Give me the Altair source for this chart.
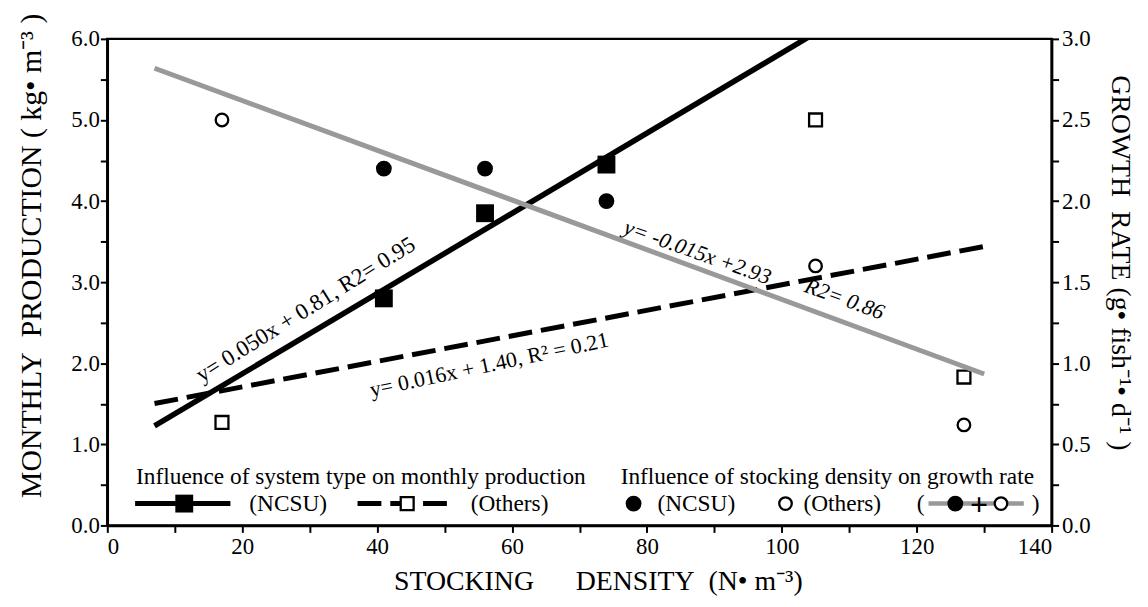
import altair as alt
import pandas as pd

# ---- data ----
density_ncsu = [41, 56, 74]
density_others = [17, 105, 127]
production_ncsu = [2.8, 3.85, 4.45]
production_others = [1.27, 5.0, 1.83]
growth_ncsu = [2.2, 2.2, 2.0]
growth_others = [2.5, 1.6, 0.62]
fit_extent = [7, 130]

x_ticks = list(range(0, 141, 10))
yl_ticks = [i * 0.5 for i in range(13)]
yr_ticks = [i * 0.25 for i in range(13)]

FONT = "Liberation Serif"
W, H = 951, 490
NB = "\u00a0"

prod_df = pd.DataFrame({
    "density": density_ncsu + density_others,
    "production": production_ncsu + production_others,
    "group": ["NCSU"] * 3 + ["Others"] * 3,
})
growth_df = pd.DataFrame({
    "density": density_ncsu + density_others,
    "growth": growth_ncsu + growth_others,
    "group": ["NCSU"] * 3 + ["Others"] * 3,
})

x_scale = alt.Scale(domain=[0, 140], nice=False, zero=False)
x_axis = alt.Axis(
    values=x_ticks,
    labelExpr="datum.value % 20 === 0 ? datum.value : ''",
    labelPadding=3,
    title=f"STOCKING{NB*6}DENSITY{NB*2}(N• m⁻³)",
    titleFontSize=28,
    titleX=494, titleY=57, titleAlign="center", titleBaseline="middle",
)
yl_scale = alt.Scale(domain=[0, 6], nice=False, zero=False)
yl_axis = alt.Axis(
    values=yl_ticks, orient="left",
    labelExpr="datum.value % 1 === 0 ? format(datum.value, '.1f') : ''",
    labelPadding=1,
    title=f"MONTHLY{NB*2}PRODUCTION{NB}({NB}kg• m⁻³{NB})",
    titleAngle=270, titleX=-76, titleY=218, titleAlign="center", titleBaseline="middle",
)
yr_scale = alt.Scale(domain=[0, 3], nice=False, zero=False)
yr_axis = alt.Axis(
    values=yr_ticks, orient="right",
    labelExpr="(datum.value * 2) % 1 === 0 ? format(datum.value, '.1f') : ''",
    labelPadding=3,
    title=f"GROWTH{NB*2}RATE{NB}(g• fish⁻¹• d⁻¹{NB})",
    titleFontSize=28,
    titleAngle=90, titleX=60, titleY=225, titleAlign="center", titleBaseline="alphabetic",
)

X = alt.X("density:Q", scale=x_scale, axis=x_axis)
YL = alt.Y("production:Q", scale=yl_scale, axis=yl_axis)
YR = alt.Y("growth:Q", scale=yr_scale, axis=yr_axis)

def XD(v):
    return alt.X(datum=v, scale=x_scale, axis=x_axis)

def YLD(v):
    return alt.Y(datum=v, scale=yl_scale, axis=yl_axis)

def YRD(v):
    return alt.Y(datum=v, scale=yr_scale, axis=yr_axis)

one = alt.Data(values=[{}])

# ---- production (left axis) ----
pbase = alt.Chart(prod_df)
solid = pbase.transform_filter(alt.datum.group == "NCSU").transform_regression(
    "density", "production", extent=fit_extent
).mark_line(color="black", strokeWidth=5.5, clip=True).encode(x=X, y=YL)
dashed = pbase.transform_filter(alt.datum.group == "Others").transform_regression(
    "density", "production", extent=fit_extent
).mark_line(color="black", strokeWidth=5, strokeDash=[24, 9], clip=True).encode(x=X, y=YL)
sq_filled = pbase.transform_filter(alt.datum.group == "NCSU").mark_point(
    shape="square", filled=True, size=324, color="black", opacity=1
).encode(x=X, y=YL)
sq_open = pbase.transform_filter(alt.datum.group == "Others").mark_point(
    shape="square", filled=True, fill="white", stroke="black", strokeWidth=2.3, size=169, opacity=1
).encode(x=X, y=YL)

eq1 = alt.Chart(one).mark_text(
    text="y= 0.050x + 0.81, R2= 0.95", angle=328, font=FONT, fontSize=23, color="black"
).encode(x=XD(29.4), y=YLD(2.66))
eq2 = alt.Chart(one).mark_text(
    text="y= 0.016x + 1.40, R² = 0.21", angle=348, font=FONT, fontSize=22, color="black"
).encode(x=XD(56.6), y=YLD(1.98))

left = alt.layer(solid, dashed, sq_open, sq_filled, eq1, eq2)

# ---- growth (right axis) ----
gbase = alt.Chart(growth_df)
gray = gbase.transform_regression("density", "growth", extent=fit_extent).mark_line(
    color="#999999", strokeWidth=5
).encode(x=X, y=YR)
c_open = gbase.transform_filter(alt.datum.group == "Others").mark_point(
    shape="circle", filled=False, stroke="black", strokeWidth=2.3, size=160, opacity=1
).encode(x=X, y=YR)
c_filled = gbase.transform_filter(alt.datum.group == "NCSU").mark_circle(
    size=254, color="black", opacity=1
).encode(x=X, y=YR)
eq3 = alt.Chart(one).mark_text(
    text="y= -0.015x +2.93", angle=19.5, font=FONT, fontSize=22, fontStyle="italic", color="black"
).encode(x=XD(87.5), y=YRD(1.684))
eq4 = alt.Chart(one).mark_text(
    text="R2= 0.86", angle=20, font=FONT, fontSize=22, fontStyle="italic", color="black"
).encode(x=XD(109.3), y=YRD(1.396))

# ---- legend (drawn inside plot) ----
R1, R2 = 441, 468
LFS = 23.5

def ltext(t, px, py, align="left", weight="normal", size=LFS):
    return alt.Chart(one).mark_text(
        text=t, align=align, baseline="middle", font=FONT, fontSize=size,
        fontWeight=weight, color="black"
    ).encode(x=alt.value(px), y=alt.value(py))

def lrule(x1, x2, py, color="black", width=5, dash=None):
    kw = dict(color=color, strokeWidth=width)
    if dash:
        kw["strokeDash"] = dash
    return alt.Chart(one).mark_rule(**kw).encode(x=alt.value(x1), x2=alt.value(x2), y=alt.value(py))

def lpoint(px, py, shape, filled, size):
    if filled:
        m = alt.Chart(one).mark_point(shape=shape, filled=True, color="black", size=size, opacity=1)
    else:
        m = alt.Chart(one).mark_point(shape=shape, filled=True, fill="white", stroke="black",
                                      strokeWidth=2.3, size=size, opacity=1)
    return m.encode(x=alt.value(px), y=alt.value(py))

legend = alt.layer(
    ltext("Influence of system type on monthly production", 29, R1),
    ltext("Influence of stocking density on growth rate", 517, R1),
    lrule(28, 124, R2),
    lpoint(77.5, R2, "square", True, 324),
    ltext("(NCSU)", 143, R2),
    lrule(252, 346, R2, dash=[24, 9]),
    lpoint(302, R2, "square", False, 169),
    ltext("(Others)", 366, R2),
    lpoint(530, R2, "circle", True, 254),
    ltext("(NCSU)", 554, R2),
    lpoint(683, R2, "circle", False, 160),
    ltext("(Others)", 701, R2),
    ltext("(", 819, R2, align="center"),
    lrule(827, 923, R2, color="#999999", width=4.5),
    lpoint(854, R2, "circle", True, 254),
    ltext("+", 878, R2 + 1, align="center", weight="bold", size=32),
    lpoint(900, R2, "circle", False, 160),
    ltext(")", 935, R2, align="center"),
)

right = alt.layer(gray, c_open, c_filled, eq3, eq4, legend)

chart = alt.layer(left, right).resolve_scale(y="independent").properties(
    width=W, height=H,
    padding={"left": 100, "top": 29, "right": 89, "bottom": 72},
    autosize=alt.AutoSizeParams(type="none"),
).configure_view(
    stroke="black", strokeWidth=2.5
).configure_axis(
    labelFont=FONT, labelFontSize=23, labelColor="black",
    titleFont=FONT, titleFontSize=30, titleFontWeight="normal", titleColor="black",
    domainColor="black", domainWidth=2.5, tickColor="black", tickWidth=2, tickSize=7,
    grid=False,
)

chart.save("out.html", embed_options={"renderer": "svg", "actions": False})
